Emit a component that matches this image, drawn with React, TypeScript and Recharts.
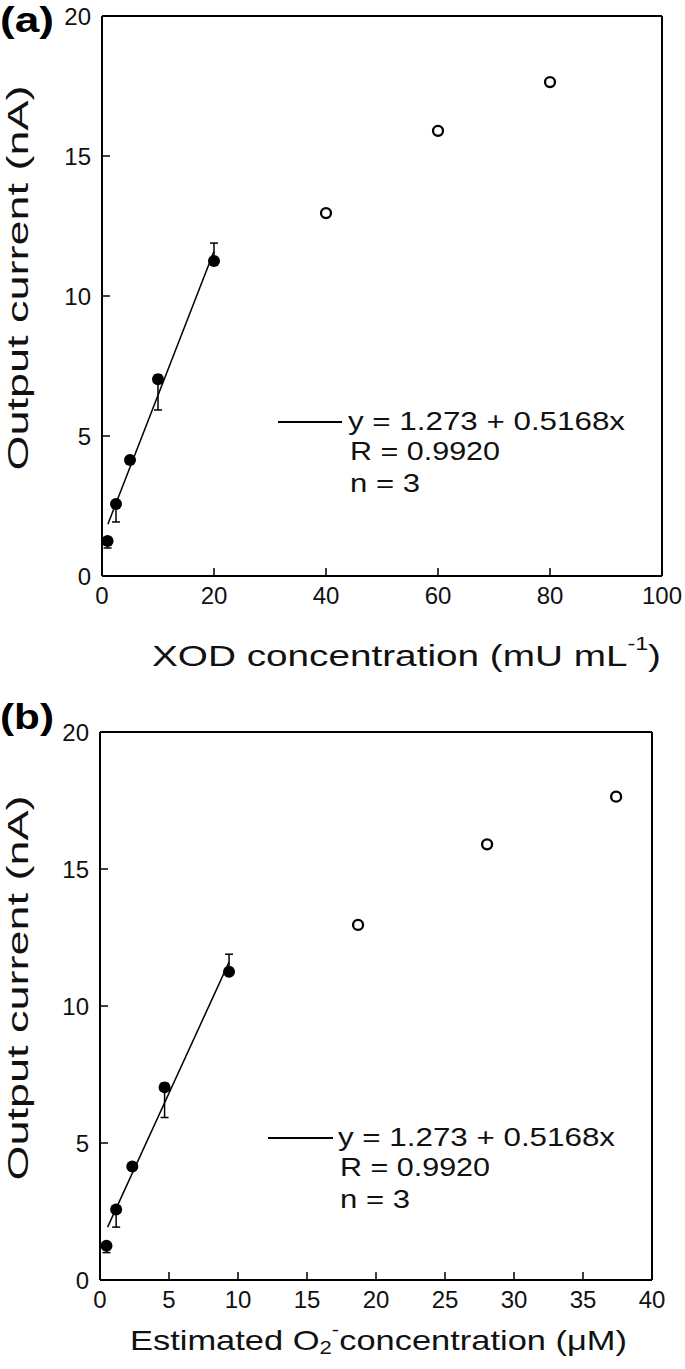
import React from "react";
import {
  ScatterChart,
  Scatter,
  XAxis,
  YAxis,
  ErrorBar,
  ReferenceLine,
} from "recharts";

// ---- data ----
const xodLinear = [1, 2.5, 5, 10, 20];
const currentLinear = [1.25, 2.57, 4.14, 7.03, 11.25];
const errLow = [0.25, 0.64, 0, 1.1, 0];
const errHigh = [0, 0, 0, 0.15, 0.64];
const xodSat = [40, 60, 80];
const currentSat = [12.96, 15.9, 17.64];
const o2Linear = [0.47, 1.17, 2.34, 4.68, 9.35];
const o2Sat = [18.7, 28.05, 37.4];
const fitA = [
  { x: 1.05, y: 1.85 },
  { x: 20, y: 11.6 },
];
const fitB = [
  { x: 0.55, y: 1.93 },
  { x: 9.35, y: 11.6 },
];
const xTicksA = [0, 20, 40, 60, 80, 100];
const xTicksB = [0, 5, 10, 15, 20, 25, 30, 35, 40];
const yTicks = [0, 5, 10, 15, 20];
const legendLines = ["y = 1.273 + 0.5168x", "R = 0.9920", "n = 3"];

const FONT = "'Liberation Sans', Arial, 'Noto Sans CJK JP', sans-serif";

const linA = xodLinear.map((x, i) => ({ x, y: currentLinear[i], err: [errLow[i], errHigh[i]] }));
const satA = xodSat.map((x, i) => ({ x, y: currentSat[i] }));
const linB = o2Linear.map((x, i) => ({ x, y: currentLinear[i], err: [errLow[i], errHigh[i]] }));
const satB = o2Sat.map((x, i) => ({ x, y: currentSat[i] }));

const FilledDot = (p: any) => <circle cx={p.cx} cy={p.cy} r={6} fill="#000" />;
const OpenDot = (p: any) => (
  <circle cx={p.cx} cy={p.cy} r={5} fill="#fff" stroke="#000" strokeWidth={2.3} />
);

const XTick = (p: any) => (
  <text x={p.x} y={p.y} textAnchor="middle" dominantBaseline="central" fontSize={24} fontFamily={FONT} fill="#111">
    {p.payload.value}
  </text>
);
const YTick = (p: any) => (
  <text x={p.x} y={p.y} textAnchor="end" dominantBaseline="central" fontSize={24} fontFamily={FONT} fill="#111">
    {p.payload.value}
  </text>
);

function Panel({ lin, sat, fit, xDomain, xTicks, width, height, margin }: any) {
  const xMax = xDomain[1];
  return (
    <ScatterChart width={width} height={height} margin={margin}>
      <XAxis
        type="number"
        dataKey="x"
        domain={xDomain}
        ticks={xTicks}
        height={30}
        axisLine={{ stroke: "#000", strokeWidth: 2 }}
        tickLine={{ stroke: "#000", strokeWidth: 1.5 }}
        tickSize={-8}
        tickMargin={27}
        tick={<XTick />}
        interval={0}
        allowDataOverflow
      />
      <YAxis
        type="number"
        dataKey="y"
        domain={[0, 20]}
        ticks={yTicks}
        width={40}
        axisLine={{ stroke: "#000", strokeWidth: 2 }}
        tickLine={{ stroke: "#000", strokeWidth: 1.5 }}
        tickSize={-8}
        tickMargin={19}
        tick={<YTick />}
        interval={0}
        allowDataOverflow
      />
      <ReferenceLine y={20} stroke="#000" strokeWidth={2} ifOverflow="visible" />
      <ReferenceLine x={xMax} stroke="#000" strokeWidth={2} ifOverflow="visible" />
      <ReferenceLine segment={fit} stroke="#000" strokeWidth={1.5} ifOverflow="visible" />
      <Scatter data={lin} shape={<FilledDot />} isAnimationActive={false}>
        <ErrorBar dataKey="err" direction="y" width={4} stroke="#000" strokeWidth={1.5} />
      </Scatter>
      <Scatter data={sat} shape={<OpenDot />} isAnimationActive={false} />
    </ScatterChart>
  );
}

function Legend({ lineX1, lineX2, textX, y0 }: any) {
  const dy = [0, 30, 62];
  const lens = [277, 150, 70];
  return (
    <g>
      <line x1={lineX1} x2={lineX2} y1={y0 + 1} y2={y0 + 1} stroke="#000" strokeWidth={2} />
      {legendLines.map((t, i) => (
        <text
          key={t}
          x={textX + (i === 0 ? 0 : 2)}
          y={y0 + dy[i]}
          dominantBaseline="central"
          fontSize={25}
          fontFamily={FONT}
          fill="#111"
          textLength={lens[i]}
          lengthAdjust="spacingAndGlyphs"
        >
          {t}
        </text>
      ))}
    </g>
  );
}

export default function App() {
  return (
    <div style={{ position: "absolute", left: 0, top: 0, width: 685, height: 1369, background: "#fff" }}>
      <div style={{ position: "absolute", left: 0, top: 0 }}>
        <Panel
          lin={linA}
          sat={satA}
          fit={fitA}
          xDomain={[0, 100]}
          xTicks={xTicksA}
          width={685}
          height={685}
          margin={{ top: 16, left: 62, right: 23, bottom: 79 }}
        />
      </div>
      <div style={{ position: "absolute", left: 0, top: 685 }}>
        <Panel
          lin={linB}
          sat={satB}
          fit={fitB}
          xDomain={[0, 40]}
          xTicks={xTicksB}
          width={685}
          height={684}
          margin={{ top: 47, left: 60, right: 33, bottom: 59 }}
        />
      </div>
      <svg
        width={685}
        height={1369}
        style={{ position: "absolute", left: 0, top: 0, pointerEvents: "none" }}
      >
        <text x={0} y={19} dominantBaseline="central" fontSize={35} fontWeight="bold" fontFamily={FONT} textLength={54} lengthAdjust="spacingAndGlyphs" fill="#000">
          (a)
        </text>
        <text x={0} y={716} dominantBaseline="central" fontSize={35} fontWeight="bold" fontFamily={FONT} textLength={54} lengthAdjust="spacingAndGlyphs" fill="#000">
          (b)
        </text>

        <text transform="translate(18,278) rotate(-90)" textAnchor="middle" dominantBaseline="central" fontSize={29} fontFamily={FONT} fill="#111" textLength={385} lengthAdjust="spacingAndGlyphs">
          Output current (nA)
        </text>
        <text transform="translate(18,988) rotate(-90)" textAnchor="middle" dominantBaseline="central" fontSize={29} fontFamily={FONT} fill="#111" textLength={385} lengthAdjust="spacingAndGlyphs">
          Output current (nA)
        </text>

        <text x={152} y={655} dominantBaseline="central" fontSize={30} fontFamily={FONT} fill="#111" textLength={509} lengthAdjust="spacingAndGlyphs">
          XOD concentration (mU  mL<tspan dy={-11} fontSize={18}>-1</tspan><tspan dy={11} fontSize={30}>)</tspan>
        </text>
        <text x={130} y={1340} dominantBaseline="central" fontSize={28} fontFamily={FONT} fill="#111" textLength={497} lengthAdjust="spacingAndGlyphs">
          Estimated  O<tspan dy={8} fontSize={18}>2</tspan><tspan dy={-18} fontSize={18}>-</tspan><tspan dy={10} fontSize={28}>concentration (μM)</tspan>
        </text>

        <Legend lineX1={278} lineX2={342} textX={348} y0={421} />
        <Legend lineX1={268} lineX2={333} textX={338} y0={1137} />
      </svg>
    </div>
  );
}
